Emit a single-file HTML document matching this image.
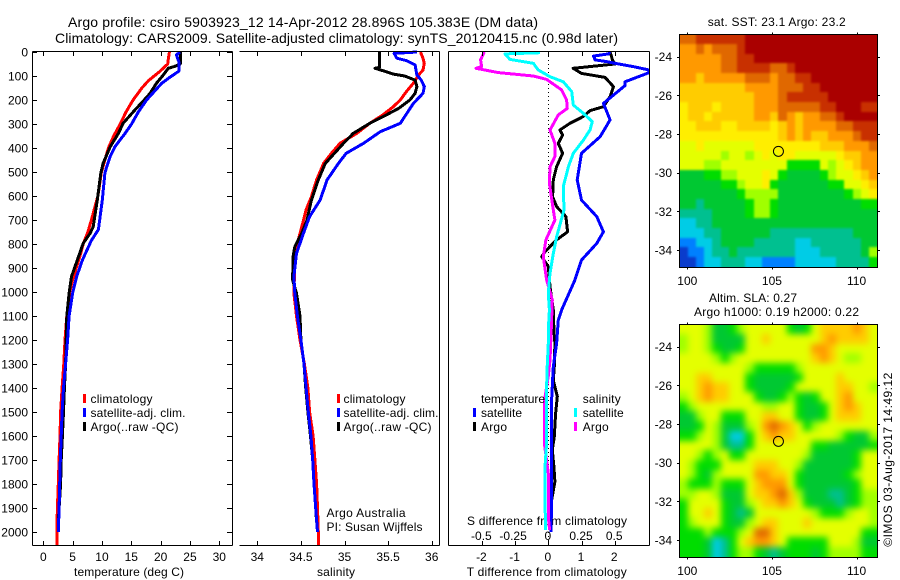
<!DOCTYPE html>
<html lang="en">
<head>
<meta charset="utf-8">
<title>Argo profile chart</title>
<style>
html,body{margin:0;padding:0;background:#fff;}
svg{display:block;}
text{font-family:"Liberation Sans",sans-serif;font-size:12px;fill:#000;}
</style>
</head>
<body>
<svg id="chart" xmlns="http://www.w3.org/2000/svg" width="900" height="580" viewBox="0 0 900 580">
<rect width="900" height="580" fill="#fff"/>
<defs>
<clipPath id="clip-diff"><rect x="448" y="52" width="201.5" height="493"/></clipPath>
<clipPath id="clip-sst-map"><rect x="679.5" y="34" width="198" height="233"/></clipPath>
<clipPath id="clip-sla-map"><rect x="679.5" y="324" width="198" height="233"/></clipPath>
<filter id="blur-sst-map" x="-10%" y="-10%" width="120%" height="120%" color-interpolation-filters="sRGB"><feGaussianBlur stdDeviation="1.1"/></filter>
<filter id="blur-sla-map" x="-10%" y="-10%" width="120%" height="120%" color-interpolation-filters="sRGB"><feGaussianBlur stdDeviation="3.5"/></filter>
</defs>
<text x="68" y="27" style="font-size:14px" textLength="470" lengthAdjust="spacing">Argo profile: csiro 5903923_12 14-Apr-2012 28.896S 105.383E (DM data)</text>
<text x="55" y="43" style="font-size:14px" textLength="563" lengthAdjust="spacing">Climatology: CARS2009. Satellite-adjusted climatology: synTS_20120415.nc (0.98d later)</text>
<text x="707.7" y="26" textLength="138" lengthAdjust="spacing">sat. SST: 23.1 Argo: 23.2</text>
<text x="709" y="302" textLength="88" lengthAdjust="spacing">Altim. SLA: 0.27</text>
<text x="694" y="316" textLength="165" lengthAdjust="spacing">Argo h1000: 0.19 h2000: 0.22</text>
<text x="74" y="576" textLength="110" lengthAdjust="spacing">temperature (deg C)</text>
<text x="317" y="576" textLength="38" lengthAdjust="spacing">salinity</text>
<text x="466.7" y="576" textLength="160" lengthAdjust="spacing">T difference from climatology</text>
<text x="467" y="525" textLength="160" lengthAdjust="spacing">S difference from climatology</text>
<text x="326.5" y="517" textLength="79" lengthAdjust="spacing">Argo Australia</text>
<text x="326.5" y="531" textLength="96" lengthAdjust="spacing">PI: Susan Wijffels</text>
<text transform="translate(892,546.7) rotate(-90)" textLength="174" lengthAdjust="spacing">©IMOS 03-Aug-2017 14:49:12</text>
<g id="layer"></g>
</svg>
<script>
// ---------- Ticks ----------
const depthTicks = [0,100,200,300,400,500,600,700,800,900,1000,1100,1200,1300,1400,1500,1600,1700,1800,1900,2000];
const tempTicks = [0,5,10,15,20,25,30];
const salTicks = [34,34.5,35,35.5,36];
const salTickLabels = ["34","34.5","35","35.5","36"];
const tDiffTicks = [-2,-1,0,1,2];
const tDiffLabels = ["-2","-1","0","1","2"];
const sDiffTicks = [-0.5,-0.25,0,0.25,0.5];
const sDiffLabels = ["-0.5","-0.25","0","0.25","0.5"];
const lonTicks = [100,105,110];
const latTicks = [-24,-26,-28,-30,-32,-34];
const argoLon = [105.383];
const argoLat = [-28.896];

// ---------- Temperature profiles ----------
const tempClimDepth = [0,30,50,80,100,120,150,200,250,300,350,400,450,500,600,700,750,800,850,900,950,1000,1100,1200,1300,1400,1500,1600,1700,1800,1900,2000,2055];
const tempClim = [21.5,21.3,21.2,19.9,18.9,17.9,16.8,15.3,14.1,13.1,12.0,11.1,10.5,9.9,9.3,8.2,7.6,6.8,6.25,5.6,5.0,4.5,4.0,3.7,3.5,3.2,2.95,2.85,2.7,2.55,2.4,2.3,2.3];
const tempSatDepth = [0,12,40,80,105,130,165,200,250,300,340,395,435,478,505,617,740,785,865,935,1005,1100,1200,1300,1400,1500,1600,1700,1800,1900,2000];
const tempSat = [23.3,22.7,23.1,23.1,21.6,20.2,18.9,17.6,16.2,15.05,13.9,12.2,11.4,10.8,10.5,10.05,9.4,8.2,6.7,5.7,5.0,4.4,4.15,3.8,3.45,3.2,3.05,2.9,2.8,2.7,2.55];
const tempArgoDepth = [0,50,60,68,96,130,172,200,242,297,339,395,464,505,617,728,755,797,853,936,1005,1100,1200,1300,1400,1500,1600,1700,1800,1900,1960];
const tempArgo = [23.35,23.35,22.4,21.3,20.45,19.3,18.2,17.2,15.6,13.6,12.8,11.4,10.2,9.8,9.2,8.5,8.0,6.8,6.0,4.8,4.4,4.0,3.9,3.8,3.6,3.45,3.25,3.05,2.95,2.7,2.55];

// ---------- Salinity profiles ----------
const salClimDepth = [0,26,47,75,96,130,165,200,228,262,297,339,380,422,464,533,603,658,728,797,880,1005,1100,1200,1300,1400,1500,1600,1700,1800,1900,2000,2055];
const salClim = [35.87,35.90,35.915,35.90,35.85,35.79,35.71,35.64,35.56,35.44,35.29,35.14,34.95,34.85,34.76,34.68,34.62,34.56,34.51,34.46,34.43,34.42,34.45,34.49,34.54,34.58,34.60,34.64,34.66,34.68,34.69,34.70,34.70];
const salSatDepth = [0,6,26,36,54,96,117,144,172,214,297,332,380,422,464,533,617,686,755,839,936,1005,1100,1200,1300,1400,1500,1600,1700,1800,1900,2000];
const salSat = [35.83,35.57,35.60,35.71,35.81,35.83,35.88,35.915,35.90,35.79,35.64,35.41,35.22,35.02,34.93,34.80,34.72,34.60,34.53,34.45,34.42,34.43,34.46,34.50,34.535,34.56,34.585,34.615,34.635,34.65,34.67,34.69];
const salArgoDepth = [0,64,68,78,92,100,117,144,172,200,235,262,297,339,380,464,533,617,700,755,811,853,950,1005,1100,1200,1300,1400,1500,1600,1700,1800,1900,1960];
const salArgo = [35.40,35.40,35.35,35.44,35.56,35.69,35.81,35.83,35.81,35.75,35.62,35.48,35.29,35.10,34.99,34.78,34.70,34.62,34.57,34.51,34.43,34.41,34.405,34.45,34.49,34.50,34.535,34.555,34.58,34.61,34.635,34.65,34.67,34.68];

// ---------- Difference profiles ----------
const dTSatDepth = [0,8,17,33,40,47,61,75,86,124,140,214,283,353,422,533,617,686,749,797,867,950,1075,1117,1214,1311,1450,1589,1728,1867,2000];
const dTSat = [1.86,1.81,1.36,1.41,1.76,2.01,2.56,3.04,3.04,2.31,2.31,1.66,1.86,1.56,1.0,0.87,1.0,1.46,1.66,1.46,1.0,0.8,0.4,0.3,0.25,0.15,0.1,0.1,0.1,0.1,0.08];
const dTArgoDepth = [0,36,50,68,89,106,144,186,228,244,269,297,325,346,381,422,478,533,603,644,686,749,783,832,853,894,978,1075,1158,1214,1311,1367,1436,1506,1603,1658,1728,1790,1867,1950];
const dTArgo = [1.86,1.94,2.01,0.75,1.0,1.71,1.96,1.86,1.66,1.26,1.05,0.65,0.35,0.43,0.3,0.43,0.25,0.15,0.13,0.25,0.53,0.58,0.25,-0.1,-0.2,0,0.05,0.15,0.17,0.2,0.18,0.15,0.27,0.22,0.18,0.12,0.17,0.2,0.1,0.05];
const dSSatDepth = [3,8,31,47,75,103,124,165,221,256,290,325,367,422,478,561,658,769,839,922,1006,1075,1158,1214,1311,1394,1519,1630,1728,1867,1992];
const dSSat = [-0.063,-0.326,-0.289,-0.113,-0.075,0.013,0.113,0.176,0.188,0.264,0.331,0.314,0.264,0.188,0.151,0.113,0.118,0.063,0.038,0.013,0,0.008,0,0,-0.008,-0.013,-0.013,-0.013,-0.025,-0.025,-0.02];
const dSArgoDepth = [0,33,61,68,86,100,114,158,200,235,262,325,381,436,478,547,658,700,783,853,950,1033,1117,1214,1283,1350,1450,1630,1755,1936,1992];
const dSArgo = [-0.482,-0.51,-0.502,-0.545,-0.376,-0.113,-0.013,0.1,0.138,0.143,0.075,0.013,0.05,0.05,0.013,0.008,0.038,0.05,-0.018,-0.038,-0.013,0.03,0.025,0.018,0.013,0,-0.028,-0.03,0,0,0.01];

// ---------- Heatmap colour levels ----------
const levelColors = ["#0a3ccc","#0080ff","#00cce6","#00c090","#00c832","#00dd00","#a0ff00","#e4ff00","#ffee00","#ffcc00","#ff9900","#e06800","#c83000","#aa0000"];

const sstLevels = [
[11,11,12,12,12,12,12,12,13,13,13,13,13,13,13,13,13,13,13,13,13,13,13,13],
[10,10,11,10,11,11,11,12,13,13,13,13,13,13,13,13,13,13,13,13,13,13,13,13],
[10,10,10,10,10,11,11,12,12,13,13,13,13,13,13,13,13,13,13,13,13,13,13,13],
[10,10,10,10,10,11,11,12,12,12,12,11,11,12,13,13,13,13,13,13,13,13,13,13],
[10,10,9,10,10,10,10,10,11,11,11,10,11,11,12,12,13,13,13,13,13,13,13,13],
[9,9,9,9,9,9,9,9,10,10,10,10,11,11,11,12,12,13,13,13,13,13,13,13],
[9,9,9,9,9,9,9,9,9,10,10,10,11,12,12,12,12,12,13,13,13,13,13,13],
[8,9,9,9,8,9,9,9,9,10,10,10,11,11,11,11,11,12,12,13,13,13,12,12],
[8,9,9,8,9,9,9,9,9,10,10,9,11,10,9,10,10,11,11,12,13,13,13,13],
[8,8,9,9,9,8,8,9,9,9,9,8,9,10,9,10,10,10,10,11,11,12,12,12],
[8,8,8,8,8,8,8,8,8,8,8,8,9,10,9,10,9,9,10,10,10,11,12,12],
[7,7,8,7,7,7,7,7,7,8,8,8,8,8,8,8,8,9,9,9,10,10,10,11],
[7,7,7,7,7,6,7,7,6,7,8,7,8,8,7,7,7,7,7,8,9,9,10,10],
[7,7,7,6,6,7,7,7,7,7,7,7,7,5,5,5,5,7,6,7,8,9,10,10],
[4,4,4,5,5,6,6,7,7,7,8,7,5,4,4,4,4,5,6,7,7,8,9,10],
[4,4,4,4,4,5,5,6,7,7,8,5,4,4,4,4,4,4,5,5,7,7,8,9],
[4,4,4,4,4,4,4,5,6,6,6,6,4,4,4,4,4,4,4,4,5,6,7,8],
[4,4,3,4,4,4,4,4,5,6,6,5,4,4,4,4,4,4,4,4,4,4,5,5],
[3,3,3,3,4,4,4,4,5,6,6,5,4,4,4,4,4,4,4,4,4,4,4,4],
[2,2,3,3,4,4,4,4,4,4,4,4,4,4,4,4,4,4,4,4,4,4,4,4],
[2,2,2,3,3,4,4,4,4,4,4,3,3,3,3,3,3,3,3,3,3,4,4,4],
[1,1,2,2,3,4,4,4,4,3,3,3,3,3,2,2,3,3,3,3,3,3,4,4],
[0,1,1,2,3,3,4,3,3,3,3,3,3,3,2,2,2,3,3,3,3,3,4,6],
[0,0,1,2,2,3,3,3,2,2,1,1,1,1,2,2,2,2,2,3,3,3,3,5]
];

const slaLevels = [
[7,7,7,6,4,4,5,6,7,7,7,7,7,5,4,5,7,9,9,9,9,10,9,7],
[6,7,7,6,4,4,4,4,7,7,9,7,7,7,7,7,7,9,10,9,9,9,9,7],
[6,7,7,6,5,4,4,5,7,7,7,7,7,7,7,7,10,10,9,7,7,7,7,7],
[7,7,7,7,6,5,6,7,7,7,7,7,7,7,7,7,9,10,9,7,6,6,7,7],
[7,7,7,7,7,7,7,7,6,5,5,5,5,5,6,7,7,7,7,7,7,7,7,7],
[7,7,9,9,7,7,7,7,5,4,4,4,4,4,5,7,7,7,7,9,7,7,7,7],
[7,7,9,10,9,9,7,7,5,4,4,4,4,5,7,7,7,7,7,9,9,7,7,6],
[6,7,9,10,9,9,7,7,7,5,4,4,5,6,5,4,5,7,7,9,10,7,7,7],
[5,6,7,7,7,7,7,7,7,7,6,6,7,7,5,4,4,5,7,9,10,9,7,7],
[4,4,6,7,7,5,5,5,7,7,9,9,7,7,5,4,4,5,7,9,9,9,7,7],
[4,4,5,7,6,4,4,4,6,7,10,11,10,9,7,5,6,7,7,7,7,7,7,7],
[5,5,6,7,6,4,2,2,5,7,9,10,9,9,7,7,7,7,7,6,5,4,4,6],
[7,7,7,7,6,4,3,3,5,7,7,7,7,7,7,7,5,5,4,4,4,4,4,5],
[7,7,6,5,6,7,5,5,7,7,7,7,7,7,7,6,4,4,4,4,4,5,7,7],
[7,6,5,5,5,7,7,7,7,9,9,9,7,7,6,4,4,4,4,4,4,5,7,7],
[7,6,5,4,6,7,7,7,7,10,10,9,9,7,5,4,4,4,4,4,5,6,7,7],
[6,5,5,5,6,5,5,5,7,9,10,10,10,7,5,4,4,4,4,4,4,5,7,7],
[6,6,7,7,6,4,4,4,7,9,9,10,11,9,6,4,4,4,3,3,4,5,6,6],
[5,7,7,7,7,5,4,4,6,7,9,9,10,9,7,5,4,4,4,3,4,5,6,6],
[5,7,7,9,7,5,4,3,4,7,7,7,7,7,7,7,6,5,5,5,6,7,7,6],
[5,6,7,7,7,5,4,4,6,7,9,9,7,7,7,9,7,7,7,7,7,7,7,6],
[5,5,5,6,5,5,5,6,7,11,11,9,7,7,7,7,7,7,7,7,7,7,5,5],
[5,5,5,4,2,3,5,7,9,10,10,9,7,5,5,5,5,5,7,7,7,6,4,4],
[5,5,5,4,2,3,5,6,6,5,4,3,4,5,5,5,4,5,6,6,6,6,5,5]
];

// ---------- Axis functions ----------
const NS = "http://www.w3.org/2000/svg";
const layer = document.getElementById("layer");
const depthY = d => 52 + 0.24 * d;
const tempX = t => 43.3 + 5.867 * t;
const salX = s => 257.3 + 87.2 * (s - 34);
const dTX = t => 548.3 + 33.2 * t;
const dSX = s => 548.3 + 132.8 * s;
const lonX = lon => 687.3 + 16.93 * (lon - 100);
const latY = (lat, top) => top + 22.4 + 19.33 * (-24 - lat);

function el(tag, attrs, name, parent) {
  const e = document.createElementNS(NS, tag);
  for (const k in attrs) e.setAttribute(k, attrs[k]);
  
  
  (parent || layer).appendChild(e);
  return e;
}
function txt(x, y, s, anchor, name, len) {
  const attrs = {x: x, y: y, 'text-anchor': anchor || 'start'};
  if (len) { attrs.textLength = len; attrs.lengthAdjust = 'spacing'; }
  const e = el('text', attrs, name);
  e.textContent = s;
  return e;
}
function seg(x1, y1, x2, y2, name) {
  return el('line', {x1: x1, y1: y1, x2: x2, y2: y2, stroke: '#000', 'stroke-width': 1, 'shape-rendering': 'crispEdges'}, name);
}
function profile(depths, values, xf, color, name, clip) {
  const pts = depths.map((d, i) => xf(values[i]).toFixed(1) + ',' + depthY(d).toFixed(1)).join(' ');
  const attrs = {points: pts, fill: 'none', stroke: color, 'stroke-width': 3, 'stroke-linejoin': 'round', 'shape-rendering': 'crispEdges'};
  if (clip) attrs['clip-path'] = 'url(#' + clip + ')';
  return el('polyline', attrs, name);
}

// ---------- Temperature panel ----------
profile(tempClimDepth, tempClim, tempX, '#ff0000', 'temperature-climatology-line');
profile(tempArgoDepth, tempArgo, tempX, '#000000', 'temperature-argo-line');
profile(tempSatDepth, tempSat, tempX, '#0000ff', 'temperature-satellite-line');
seg(32.5, 51.5, 232.5, 51.5, 'temperature-top-axis');
seg(32.5, 545.5, 232.5, 545.5, 'temperature-bottom-axis');
seg(32.5, 51.5, 32.5, 545.5, 'temperature-left-axis');
seg(232.5, 51.5, 232.5, 545.5, 'temperature-right-axis');
depthTicks.forEach(d => {
  const y = Math.round(depthY(d)) + 0.5;
  seg(32.5, y, 37, y, 'depth-tick-left');
  seg(227, y, 232.5, y, 'depth-tick-right');
  txt(28, depthY(d) + 4.5, String(d), 'end', 'depth-tick-label');
});
tempTicks.forEach(t => {
  const x = Math.round(tempX(t)) + 0.5;
  seg(x, 51.5, x, 56, 'temperature-tick-top');
  seg(x, 541, x, 545.5, 'temperature-tick-bottom');
  txt(tempX(t), 561, String(t), 'middle', 'temperature-tick-label');
});

// ---------- Salinity panel ----------
profile(salClimDepth, salClim, salX, '#ff0000', 'salinity-climatology-line');
profile(salArgoDepth, salArgo, salX, '#000000', 'salinity-argo-line');
profile(salSatDepth, salSat, salX, '#0000ff', 'salinity-satellite-line');
seg(239.5, 51.5, 439.5, 51.5, 'salinity-top-axis');
seg(239.5, 545.5, 439.5, 545.5, 'salinity-bottom-axis');
seg(439.5, 51.5, 439.5, 545.5, 'salinity-right-axis');
salTicks.forEach((s, i) => {
  const x = Math.round(salX(s)) + 0.5;
  seg(x, 51.5, x, 56, 'salinity-tick-top');
  seg(x, 541, x, 545.5, 'salinity-tick-bottom');
  txt(salX(s), 561, salTickLabels[i], 'middle', 'salinity-tick-label');
});

// ---------- Difference panel ----------
el('line', {x1: 548.5, y1: 52, x2: 548.5, y2: 545, stroke: '#000', 'stroke-width': 1, 'stroke-dasharray': '1 3', 'shape-rendering': 'crispEdges'}, 'zero-difference-line');
profile(dTArgoDepth, dTArgo, dTX, '#000000', 't-difference-argo-line', 'clip-diff');
profile(dTSatDepth, dTSat, dTX, '#0000ff', 't-difference-satellite-line', 'clip-diff');
profile(dSArgoDepth, dSArgo, dSX, '#ff00ff', 's-difference-argo-line', 'clip-diff');
profile(dSSatDepth, dSSat, dSX, '#00ffff', 's-difference-satellite-line', 'clip-diff');
seg(448.5, 51.5, 649.5, 51.5, 'difference-top-axis');
seg(448.5, 545.5, 649.5, 545.5, 'difference-bottom-axis');
seg(448.5, 51.5, 448.5, 545.5, 'difference-left-axis');
seg(649.5, 51.5, 649.5, 545.5, 'difference-right-axis');
tDiffTicks.forEach((t, i) => {
  const x = Math.round(dTX(t)) + 0.5;
  seg(x, 51.5, x, 56, 'difference-tick-top');
  seg(x, 541, x, 545.5, 'difference-tick-bottom');
  txt(dTX(t) - 0.5, 561, tDiffLabels[i], 'middle', 't-difference-tick-label');
});
sDiffTicks.forEach((s, i) => {
  txt(dSX(s) + (i === 1 ? -2 : -0.5), 540, sDiffLabels[i], 'middle', 's-difference-tick-label');
});

// ---------- Legends ----------
function swatch(x, y, color, name) {
  return el('rect', {x: x, y: y, width: 3, height: 9, fill: color, 'shape-rendering': 'crispEdges'}, name);
}
swatch(83, 394, '#ff0000', 'temperature-legend-climatology-swatch');
swatch(83, 408, '#0000ff', 'temperature-legend-satellite-swatch');
swatch(83, 422, '#000000', 'temperature-legend-argo-swatch');
txt(90.5, 403, 'climatology', 'start', 'temperature-legend-climatology', 62);
txt(90.5, 417, 'satellite-adj. clim.', 'start', 'temperature-legend-satellite', 95);
txt(90.5, 431, 'Argo(..raw -QC)', 'start', 'temperature-legend-argo', 88);
swatch(337, 394, '#ff0000', 'salinity-legend-climatology-swatch');
swatch(337, 408, '#0000ff', 'salinity-legend-satellite-swatch');
swatch(337, 422, '#000000', 'salinity-legend-argo-swatch');
txt(343.5, 403, 'climatology', 'start', 'salinity-legend-climatology', 62);
txt(343.5, 417, 'satellite-adj. clim.', 'start', 'salinity-legend-satellite', 95);
txt(343.5, 431, 'Argo(..raw -QC)', 'start', 'salinity-legend-argo', 88);
txt(481, 403, 'temperature', 'start', 'difference-legend-temperature-heading', 64);
txt(481, 417, 'satellite', 'start', 'difference-legend-t-satellite', 41);
txt(481, 431, 'Argo', 'start', 'difference-legend-t-argo', 26);
swatch(473, 408, '#0000ff', 'difference-legend-t-satellite-swatch');
swatch(473, 422, '#000000', 'difference-legend-t-argo-swatch');
txt(582.7, 403, 'salinity', 'start', 'difference-legend-salinity-heading', 38);
txt(582.7, 417, 'satellite', 'start', 'difference-legend-s-satellite', 41);
txt(582.7, 431, 'Argo', 'start', 'difference-legend-s-argo', 26);
swatch(574, 408, '#00ffff', 'difference-legend-s-satellite-swatch');
swatch(574, 422, '#ff00ff', 'difference-legend-s-argo-swatch');

// ---------- Maps ----------
function drawMap(levels, top, prefix) {
  const left = 679.3, w = 198, h = 232.4, bleed = 14;
  const rows = levels.length;
  const clipGroup = el('g', {'clip-path': 'url(#clip-' + prefix + ')'}, prefix + '-clip-group');
  const cellGroup = el('g', {filter: 'url(#blur-' + prefix + ')'}, prefix + '-cells', clipGroup);
  levels.forEach((row, r) => {
    row.forEach((v, c) => {
      let x0 = Math.round(left + w * c / row.length), x1 = Math.round(left + w * (c + 1) / row.length);
      let y0 = Math.round(top + h * r / rows), y1 = Math.round(top + h * (r + 1) / rows);
      if (c === 0) x0 -= bleed;
      if (c === row.length - 1) x1 += bleed;
      if (r === 0) y0 -= bleed;
      if (r === rows - 1) y1 += bleed;
      el('rect', {x: x0, y: y0, width: x1 - x0, height: y1 - y0, fill: levelColors[v], 'shape-rendering': 'crispEdges'}, prefix + '-cell', cellGroup);
    });
  });
  const fr = Math.round(top) + 0.5, fb = Math.round(top + h) + 0.5;
  el('rect', {x: 679.5, y: fr, width: 198, height: fb - fr, fill: 'none', stroke: '#000', 'stroke-width': 1, 'shape-rendering': 'crispEdges'}, prefix + '-frame');
  lonTicks.forEach(lon => {
    const x = Math.round(lonX(lon)) + 0.5;
    seg(x, fr - 2, x, fr, prefix + '-lon-tick-top');
    seg(x, fb, x, fb + 2, prefix + '-lon-tick-bottom');
    txt(lonX(lon), fb + 17.5, String(lon), 'middle', prefix + '-lon-label');
  });
  latTicks.forEach(lat => {
    const y = Math.round(latY(lat, top)) + 0.5;
    seg(677, y, 679.5, y, prefix + '-lat-tick-left');
    seg(877.5, y, 880, y, prefix + '-lat-tick-right');
    txt(672, latY(lat, top) + 4.5, String(lat), 'end', prefix + '-lat-label');
  });
  el('circle', {cx: lonX(argoLon[0]), cy: latY(argoLat[0], top), r: 5, fill: 'none', stroke: '#000', 'stroke-width': 1}, prefix + '-argo-position-marker');
}
drawMap(sstLevels, 34.3, 'sst-map');
drawMap(slaLevels, 324.3, 'sla-map');
</script>
</body>
</html>
